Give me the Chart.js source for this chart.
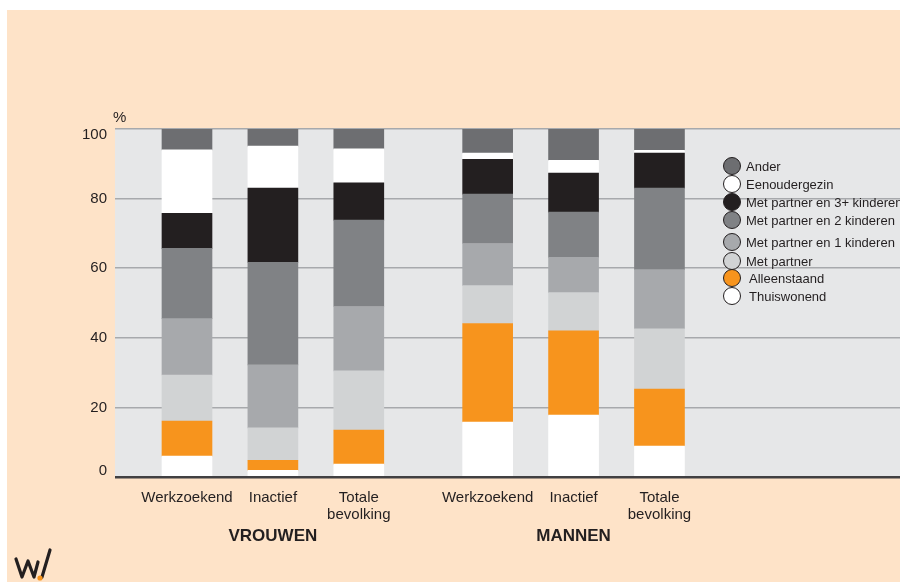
<!DOCTYPE html>
<html><head><meta charset="utf-8">
<script src="https://cdn.jsdelivr.net/npm/chart.js@4.4.0/dist/chart.umd.min.js"></script>
<style>html,body{margin:0;padding:0;background:#fff;}#wrap{width:900px;height:582px;position:relative}</style>
</head><body><div id="wrap"><canvas id="c" width="900" height="582"></canvas></div>
<script>
// ---- data ----
const categories = ['Werkzoekend','Inactief','Totale bevolking','Werkzoekend','Inactief','Totale bevolking'];
const groups = ['VROUWEN','MANNEN'];
const seriesNames = ['Thuiswonend','Alleenstaand','Met partner','Met partner en 1 kinderen','Met partner en 2 kinderen','Met partner en 3+ kinderen','Eenoudergezin','Ander'];
const thuiswonend      = [6.0, 1.9, 3.7, 15.8, 17.8, 8.9];
const alleenstaand     = [10.1, 2.9, 9.8, 28.3, 24.2, 16.4];
const metPartner       = [13.2, 9.3, 17.0, 10.9, 11.0, 17.3];
const partner1Kind     = [16.2, 18.1, 18.5, 12.1, 10.1, 17.0];
const partner2Kinderen = [20.2, 29.5, 24.8, 14.2, 13.0, 23.4];
const partner3Kinderen = [10.1, 21.3, 10.7, 10.0, 11.2, 10.1];
const eenoudergezin    = [18.2, 12.1, 9.8, 1.8, 3.7, 0.8];
const ander            = [6.0, 4.9, 5.7, 6.9, 9.0, 6.1];
const yTicks = [0, 20, 40, 60, 80, 100];

// ---- styles / layout ----
const seriesValues = [thuiswonend, alleenstaand, metPartner, partner1Kind, partner2Kinderen, partner3Kinderen, eenoudergezin, ander];
const colors = ['#ffffff','#f7941d','#d1d3d4','#a7a9ac','#808285','#231f20','#ffffff','#6d6e71'];
const slotX = i => 1 + i + (i >= 3 ? 0.5 : 0);
const groupX = [slotX(1), slotX(4)];
const X_MIN = 0.162, X_MAX = 9.30;

function hasFont(name){
  const c = document.createElement('canvas').getContext('2d');
  c.font = '20px "' + name + '", monospace'; const a = c.measureText('Werkzoekend 100').width;
  c.font = '20px monospace'; const b = c.measureText('Werkzoekend 100').width;
  return Math.abs(a - b) > 0.5;
}
const narrow = hasFont('Liberation Sans Narrow');
const FAM = narrow ? '"Liberation Sans Narrow", "Liberation Sans", Arial, sans-serif' : '"Liberation Sans", Arial, sans-serif';
const S = narrow ? {tick:18.5, y:18, legend:16, group:20.5, pct:17} : {tick:15, y:15, legend:13, group:17, pct:15};
const TXT = '#231f20';

const datasets = seriesNames.map((name, k) => ({
  label: name,
  data: seriesValues[k].map((v, i) => ({x: slotX(i), y: v})),
  backgroundColor: colors[k],
  borderWidth: 0,
  barThickness: 50
}));

const bgPlugin = {
  id: 'bg',
  beforeDraw(chart){
    const {ctx, chartArea: a} = chart;
    ctx.save();
    ctx.fillStyle = '#ffffff'; ctx.fillRect(0, 0, 900, 582);
    ctx.fillStyle = '#fee3c8'; ctx.fillRect(7, 10, 893, 572);
    ctx.fillStyle = '#e6e7e8'; ctx.fillRect(a.left, a.top, a.right - a.left, a.bottom - a.top);
    ctx.restore();
  }
};

const legendY = [166, 184, 202, 220, 242, 261, 278, 296];
const legendTextX = [746, 746, 746, 746, 746, 746, 749, 749];
const decoPlugin = {
  id: 'deco',
  afterDraw(chart){
    const ctx = chart.ctx;
    ctx.save();
    ctx.fillStyle = TXT; ctx.font = S.pct + 'px ' + FAM;
    ctx.textAlign = 'left'; ctx.textBaseline = 'middle';
    ctx.fillText('%', 113, 118);
    ctx.font = S.legend + 'px ' + FAM;
    const order = seriesNames.map((n, k) => k).reverse();
    order.forEach((k, j) => {
      const y = legendY[j];
      ctx.beginPath(); ctx.arc(732, y, 8.5, 0, Math.PI * 2);
      ctx.fillStyle = colors[k]; ctx.fill();
      ctx.lineWidth = 1; ctx.strokeStyle = '#231f20'; ctx.stroke();
      ctx.fillStyle = TXT; ctx.fillText(seriesNames[k], legendTextX[j], y + 1);
    });
    // logo
    ctx.strokeStyle = '#231f20'; ctx.lineWidth = 3.2; ctx.lineJoin = 'round'; ctx.lineCap = 'round';
    ctx.beginPath();
    ctx.moveTo(16, 559); ctx.lineTo(22, 577); ctx.lineTo(28, 561); ctx.lineTo(34, 577); ctx.lineTo(38, 562);
    ctx.stroke();
    ctx.beginPath(); ctx.moveTo(42, 577); ctx.lineTo(50, 550); ctx.stroke();
    ctx.fillStyle = '#f7941d'; ctx.beginPath(); ctx.arc(40, 578, 2.6, 0, Math.PI * 2); ctx.fill();
    ctx.restore();
  }
};

new Chart(document.getElementById('c'), {
  type: 'bar',
  data: {datasets},
  options: {
    responsive: false,
    animation: false,
    events: [],
    layout: {padding: {top: 129, left: 0, right: 0, bottom: 0}},
    plugins: {legend: {display: false}, tooltip: {enabled: false}, title: {display: false}},
    scales: {
      x: {
        type: 'linear', position: 'bottom', weight: 0, stacked: true, offset: false,
        min: X_MIN, max: X_MAX,
        grid: {display: false, drawTicks: false, tickLength: 0}, border: {display: false},
        afterBuildTicks: s => { s.ticks = categories.map((c, i) => ({value: slotX(i)})); },
        afterFit: s => { s.height = 50; },
        ticks: {
          autoSkip: false, maxRotation: 0, minRotation: 0, padding: 12, color: TXT,
          font: {family: FAM, size: S.tick, lineHeight: 1.15},
          callback: (v, i) => categories[i].includes(' ') ? categories[i].split(' ') : categories[i]
        }
      },
      x2: {
        type: 'linear', position: 'bottom', weight: 1, offset: false,
        min: X_MIN, max: X_MAX,
        grid: {display: false, drawTicks: false, tickLength: 0}, border: {display: false},
        afterBuildTicks: s => { s.ticks = groupX.map(v => ({value: v})); },
        afterFit: s => { s.height = 55; },
        ticks: {
          autoSkip: false, maxRotation: 0, minRotation: 0, padding: 1, color: TXT,
          font: {family: FAM, size: S.group, weight: 'bold', lineHeight: 1.0},
          callback: (v, i) => groups[i]
        }
      },
      y: {
        type: 'linear', stacked: true, min: 0, max: 100,
        border: {display: false},
        afterBuildTicks: s => { s.ticks = yTicks.map(v => ({value: v})); },
        afterFit: s => { s.width = 115; },
        grid: {
          drawTicks: false,
          color: c => (c.tick && c.tick.value === 0) ? '#414042' : '#a7a9ac',
          lineWidth: c => (c.tick && c.tick.value === 0) ? 2.5 : 1.6
        },
        ticks: {
          padding: 8, color: TXT,
          font: {family: FAM, size: S.y, lineHeight: 0.8},
          callback: v => v === 100 ? ['', '100'] : (v === 0 ? ['0', ''] : String(v))
        }
      }
    }
  },
  plugins: [bgPlugin, decoPlugin]
});
</script>
</body></html>
